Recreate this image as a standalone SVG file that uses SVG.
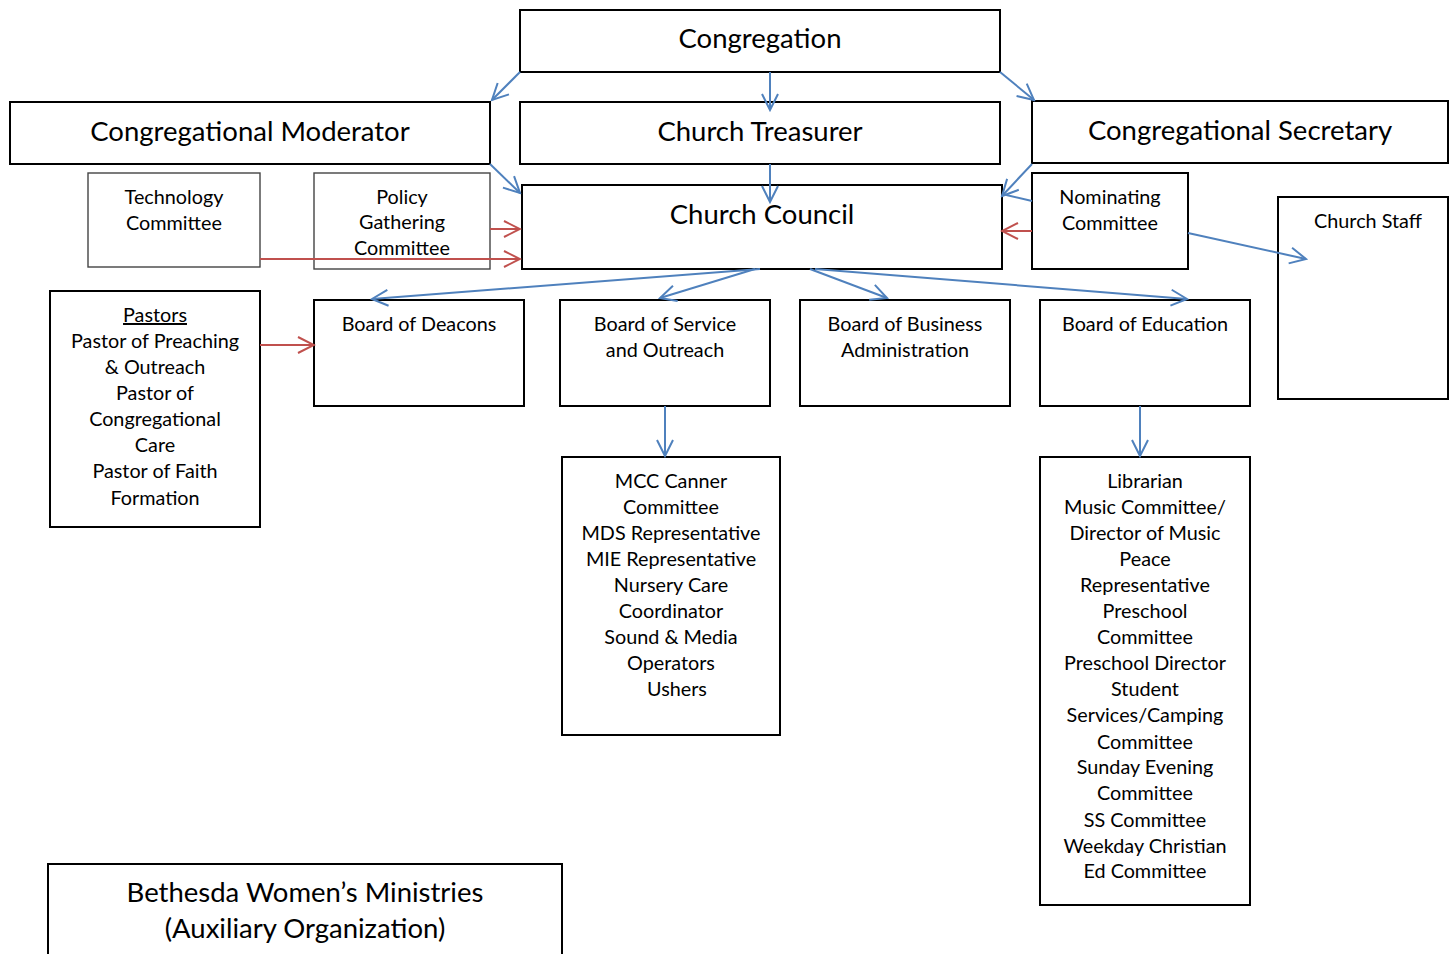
<svg xmlns="http://www.w3.org/2000/svg" width="1450" height="954" viewBox="0 0 1450 954">
<defs>
<style>
.box{fill:#fff;stroke:#000;stroke-width:2}
.gbox{fill:none;stroke:#444;stroke-width:1.4}
text{font-family:Lato,"Open Sans","Liberation Sans",sans-serif;fill:#000;text-anchor:middle}
.big{font-size:27.5px}
.sm{font-size:19.8px}
.b{stroke:#4f81bd;stroke-width:2;fill:none}
.r{stroke:#c0504d;stroke-width:2;fill:none}
</style>
<marker id="ab" viewBox="0 0 20 20" refX="18" refY="10" markerWidth="20" markerHeight="20" markerUnits="userSpaceOnUse" orient="auto">
<path d="M2,2 L18,10 L2,18" fill="none" stroke="#4f81bd" stroke-width="2"/>
</marker>
<marker id="ar" viewBox="0 0 20 20" refX="18" refY="10" markerWidth="20" markerHeight="20" markerUnits="userSpaceOnUse" orient="auto">
<path d="M2,2 L18,10 L2,18" fill="none" stroke="#c0504d" stroke-width="2"/>
</marker>
</defs>
<rect width="1450" height="954" fill="#fff"/>

<g id="congregation"><rect class="box" x="520" y="10" width="480" height="62"/><text class="big" x="760" y="48">Congregation</text></g>
<g id="moderator"><rect class="box" x="10" y="102" width="480" height="62"/><text class="big" x="250" y="141">Congregational Moderator</text></g>
<g id="treasurer"><rect class="box" x="520" y="102" width="480" height="62"/><text class="big" x="760" y="141">Church Treasurer</text></g>
<g id="secretary"><rect class="box" x="1032" y="101" width="416" height="62"/><text class="big" x="1240" y="140">Congregational Secretary</text></g>
<g id="council"><rect class="box" x="522" y="185" width="480" height="84"/><text class="big" x="762" y="224">Church Council</text></g>
<g id="technology"><rect class="gbox" x="88" y="173" width="172" height="94"/><text class="sm" x="174" y="204">Technology</text><text class="sm" x="174" y="230">Committee</text></g>
<g id="policy"><rect class="gbox" x="314" y="173" width="176" height="96"/><text class="sm" x="402" y="204">Policy</text><text class="sm" x="402" y="229">Gathering</text><text class="sm" x="402" y="255">Committee</text></g>
<g id="nominating"><rect class="box" x="1032" y="173" width="156" height="96"/><text class="sm" x="1110" y="204">Nominating</text><text class="sm" x="1110" y="230">Committee</text></g>
<g id="staff"><rect class="box" x="1278" y="197" width="170" height="202"/><text class="sm" x="1368" y="228">Church Staff</text></g>
<g id="pastors"><rect class="box" x="50" y="291" width="210" height="236"/>
<text class="sm" x="155" y="322" text-decoration="underline">Pastors</text>
<text class="sm" x="155" y="348">Pastor of Preaching</text>
<text class="sm" x="155" y="374">&amp; Outreach</text>
<text class="sm" x="155" y="400">Pastor of</text>
<text class="sm" x="155" y="426">Congregational</text>
<text class="sm" x="155" y="452">Care</text>
<text class="sm" x="155" y="478">Pastor of Faith</text>
<text class="sm" x="155" y="505">Formation</text></g>
<g id="deacons"><rect class="box" x="314" y="300" width="210" height="106"/><text class="sm" x="419" y="331">Board of Deacons</text></g>
<g id="service"><rect class="box" x="560" y="300" width="210" height="106"/><text class="sm" x="665" y="331">Board of Service</text><text class="sm" x="665" y="357">and Outreach</text></g>
<g id="business"><rect class="box" x="800" y="300" width="210" height="106"/><text class="sm" x="905" y="331">Board of Business</text><text class="sm" x="905" y="357">Administration</text></g>
<g id="education"><rect class="box" x="1040" y="300" width="210" height="106"/><text class="sm" x="1145" y="331">Board of Education</text></g>
<g id="service-list"><rect class="box" x="562" y="457" width="218" height="278"/>
<text class="sm" x="671" y="488">MCC Canner</text>
<text class="sm" x="671" y="514">Committee</text>
<text class="sm" x="671" y="540">MDS Representative</text>
<text class="sm" x="671" y="566">MIE Representative</text>
<text class="sm" x="671" y="592">Nursery Care</text>
<text class="sm" x="671" y="618">Coordinator</text>
<text class="sm" x="671" y="644">Sound &amp; Media</text>
<text class="sm" x="671" y="670">Operators</text>
<text class="sm" x="677" y="696">Ushers</text></g>
<g id="education-list"><rect class="box" x="1040" y="457" width="210" height="448"/>
<text class="sm" x="1145" y="488">Librarian</text>
<text class="sm" x="1145" y="514">Music Committee/</text>
<text class="sm" x="1145" y="540">Director of Music</text>
<text class="sm" x="1145" y="566">Peace</text>
<text class="sm" x="1145" y="592">Representative</text>
<text class="sm" x="1145" y="618">Preschool</text>
<text class="sm" x="1145" y="644">Committee</text>
<text class="sm" x="1145" y="670">Preschool Director</text>
<text class="sm" x="1145" y="696">Student</text>
<text class="sm" x="1145" y="722">Services/Camping</text>
<text class="sm" x="1145" y="749">Committee</text>
<text class="sm" x="1145" y="774">Sunday Evening</text>
<text class="sm" x="1145" y="800">Committee</text>
<text class="sm" x="1145" y="827">SS Committee</text>
<text class="sm" x="1145" y="853">Weekday Christian</text>
<text class="sm" x="1145" y="878">Ed Committee</text></g>
<g id="bethesda"><rect class="box" x="48" y="864" width="514" height="100"/><text class="big" x="305" y="902">Bethesda Women’s Ministries</text><text class="big" x="305" y="938">(Auxiliary Organization)</text></g>

<g id="connectors">
<line class="b" x1="520" y1="72" x2="492" y2="100" marker-end="url(#ab)"/>
<line class="b" x1="770" y1="72" x2="770" y2="110" marker-end="url(#ab)"/>
<line class="b" x1="1000" y1="72" x2="1034" y2="100" marker-end="url(#ab)"/>
<line class="b" x1="490" y1="164" x2="520" y2="193" marker-end="url(#ab)"/>
<line class="b" x1="770" y1="164" x2="770" y2="202" marker-end="url(#ab)"/>
<line class="b" x1="1032" y1="164" x2="1002" y2="196" marker-end="url(#ab)"/>
<line class="b" x1="1032" y1="201" x2="1002" y2="194"/>
<line class="r" x1="1032" y1="231" x2="1002" y2="231" marker-end="url(#ar)"/>
<line class="r" x1="490" y1="229" x2="520" y2="229" marker-end="url(#ar)"/>
<line class="r" x1="260" y1="259" x2="520" y2="259" marker-end="url(#ar)"/>
<line class="r" x1="260" y1="345" x2="314" y2="345" marker-end="url(#ar)"/>
<line class="b" x1="760" y1="269" x2="372" y2="299" marker-end="url(#ab)"/>
<line class="b" x1="755" y1="269" x2="660" y2="298" marker-end="url(#ab)"/>
<line class="b" x1="810" y1="269" x2="887" y2="298" marker-end="url(#ab)"/>
<line class="b" x1="815" y1="269" x2="1187" y2="299" marker-end="url(#ab)"/>
<line class="b" x1="1188" y1="233" x2="1306" y2="259" marker-end="url(#ab)"/>
<line class="b" x1="665" y1="406" x2="665" y2="456" marker-end="url(#ab)"/>
<line class="b" x1="1140" y1="406" x2="1140" y2="456" marker-end="url(#ab)"/>
</g>
</svg>
